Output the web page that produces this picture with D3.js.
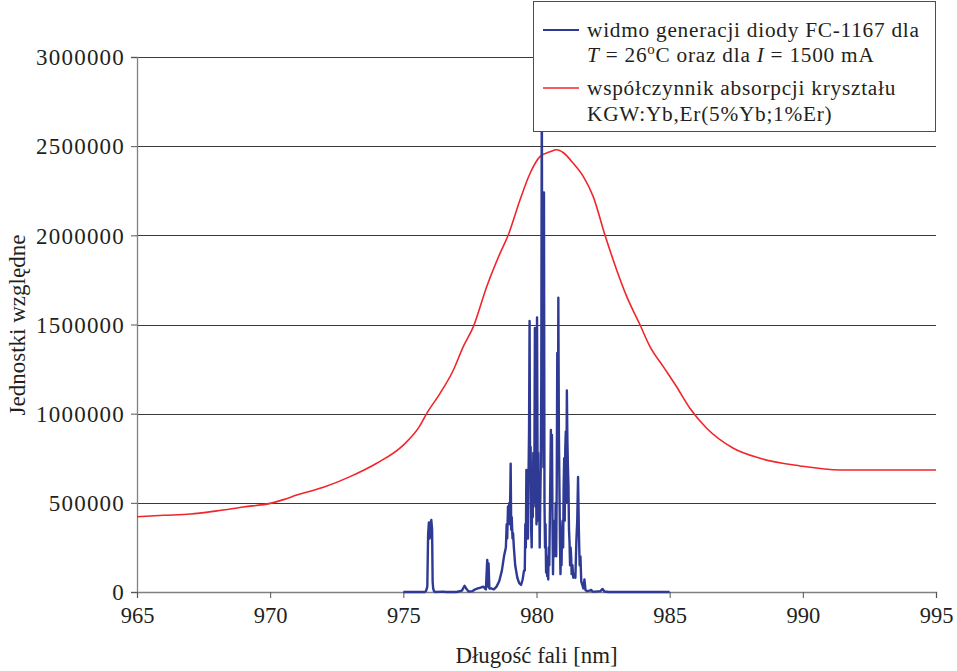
<!DOCTYPE html>
<html>
<head>
    <meta charset="UTF-8">
    <title>Widmo diody i absorpcja KGW:Yb,Er</title>
    <script src="https://d3js.org/d3.v7.min.js"></script>
    <style>
        body { margin: 0; background: #fff; }
        text { font-family: "Liberation Serif", Tinos, "Times New Roman", serif; fill: #231f20; }
    </style>
</head>
<body>
    <div id="chart"></div>
    <script>
        // wavelength ticks and value ticks
        var xTicks = [965, 970, 975, 980, 985, 990, 995];
        var yTicks = [0, 500000, 1000000, 1500000, 2000000, 2500000, 3000000];

        // absorption coefficient of the crystal (red), [nm, value]
        var absorption = [
            [965, 422000], [966, 430000], [967, 437000], [968, 455000], [969, 477000],
            [970, 497000], [970.5, 518000], [971, 544000], [972, 587000], [973, 647000],
            [974, 722000], [975, 824000], [975.6, 927000], [975.88, 1002000], [976.38, 1114000],
            [976.88, 1245000], [977.25, 1376000], [977.63, 1488000], [978.13, 1712000],
            [978.63, 1899000], [978.94, 2002000], [979.38, 2198000], [979.76, 2348000],
            [980.13, 2441000], [980.51, 2469000], [980.76, 2480000], [981.01, 2463000],
            [981.38, 2404000], [981.76, 2329000], [982.13, 2217000], [982.57, 2002000],
            [983.01, 1806000], [983.39, 1656000], [983.89, 1497000], [984.26, 1376000],
            [984.76, 1264000], [985.26, 1151000], [985.76, 1030000], [986.39, 918000],
            [987.39, 806000], [988.39, 750000], [989.89, 707000], [991.4, 684000], [995, 684000]
        ];

        // generation spectrum of the FC-1167 diode (blue), [nm, value]
        var spectrum = [
            [975.0, 0], [975.8, 0], [975.85, 5000], [975.9, 30000], [975.93, 320000],
            [975.96, 390000], [975.99, 300000], [976.02, 380000], [976.05, 404000],
            [976.08, 350000], [976.1, 60000], [976.12, 20000], [976.15, 5000], [976.2, 0],
            [976.5, 2000], [976.6, 0], [977.0, 0], [977.2, 8000], [977.3, 35000],
            [977.38, 15000], [977.45, 3000], [977.6, 5000], [977.7, 15000], [977.8, 20000],
            [977.9, 25000], [978.0, 30000], [978.1, 15000], [978.15, 180000], [978.17, 30000],
            [978.2, 160000], [978.23, 20000], [978.3, 20000], [978.4, 15000], [978.5, 30000],
            [978.6, 60000], [978.7, 120000], [978.78, 200000], [978.85, 250000], [978.88, 380000],
            [978.9, 300000], [978.93, 480000], [978.95, 420000], [978.98, 500000], [979.0, 380000],
            [979.03, 720000], [979.05, 350000], [979.07, 420000], [979.1, 300000], [979.12, 330000],
            [979.15, 250000], [979.2, 150000], [979.28, 80000], [979.35, 50000], [979.42, 40000],
            [979.48, 70000], [979.53, 120000],
            [979.56, 120000], [979.58, 380000], [979.60, 250000], [979.62, 684000], [979.64, 420000],
            [979.66, 600000], [979.68, 300000], [979.70, 650000], [979.72, 900000], [979.74, 1520000],
            [979.76, 620000], [979.78, 813000], [979.80, 350000], [979.82, 250000], [979.84, 620000],
            [979.86, 420000], [979.88, 780000], [979.90, 500000], [979.92, 700000], [979.94, 1480000],
            [979.96, 480000], [979.98, 628000], [980.00, 380000], [980.02, 1540000], [980.04, 700000],
            [980.06, 780000], [980.08, 400000], [980.10, 620000], [980.12, 250000], [980.14, 500000],
            [980.16, 700000], [980.18, 1200000], [980.20, 2950000], [980.22, 900000], [980.24, 1100000],
            [980.26, 700000], [980.28, 2240000], [980.30, 500000], [980.32, 250000], [980.34, 380000],
            [980.36, 110000], [980.38, 200000], [980.40, 90000], [980.42, 150000], [980.44, 70000],
            [980.46, 250000], [980.48, 150000], [980.50, 400000], [980.52, 650000], [980.54, 908000],
            [980.56, 600000], [980.58, 880000], [980.60, 400000], [980.62, 100000], [980.64, 350000],
            [980.66, 200000], [980.68, 400000], [980.70, 250000], [980.72, 500000], [980.74, 200000],
            [980.76, 600000], [980.78, 1340000], [980.80, 700000], [980.82, 1650000], [980.84, 900000],
            [980.86, 600000], [980.88, 300000], [980.90, 100000], [980.92, 250000], [980.94, 150000],
            [980.96, 350000], [980.98, 400000], [981.00, 250000], [981.02, 600000], [981.04, 750000],
            [981.06, 400000], [981.08, 800000], [981.10, 900000], [981.12, 500000], [981.14, 1130000],
            [981.16, 850000], [981.18, 700000], [981.20, 600000], [981.22, 350000], [981.24, 280000],
            [981.26, 150000], [981.28, 250000], [981.30, 200000], [981.32, 100000], [981.35, 150000],
            [981.38, 80000], [981.42, 100000], [981.46, 80000], [981.50, 300000], [981.53, 400000],
            [981.56, 645000], [981.59, 350000], [981.62, 150000], [981.65, 200000], [981.68, 60000],
            [981.72, 40000], [981.76, 20000], [981.80, 70000], [981.84, 10000], [981.9, 5000],
            [982.0, 8000], [982.05, 12000], [982.1, 3000], [982.2, 2000], [982.4, 5000],
            [982.48, 17000], [982.55, 3000], [982.7, 0], [985.0, 0]
        ];

        var W = 957, H = 671;
        var margin = {top: 57, right: 21, bottom: 79, left: 137},
            width = W - margin.left - margin.right,
            height = H - margin.top - margin.bottom;

        var x = d3.scaleLinear().domain([965, 995]).range([0, width]);
        var y = d3.scaleLinear().domain([0, 3000000]).range([height, 0]);

        var svg = d3.select("#chart").append("svg")
            .attr("width", W)
            .attr("height", H);

        var g = svg.append("g")
            .attr("transform", "translate(" + margin.left + "," + margin.top + ")");

        // horizontal gridlines
        g.selectAll(".grid")
            .data(yTicks.filter(function(d) { return d > 0; }))
            .enter().append("line")
            .attr("x1", 0).attr("x2", width)
            .attr("y1", function(d) { return Math.round(y(d)) + 0.5; })
            .attr("y2", function(d) { return Math.round(y(d)) + 0.5; })
            .attr("stroke", "#3a3a3a")
            .attr("stroke-width", 1);

        // axes
        var yAxis = g.append("g")
            .call(d3.axisLeft(y).tickValues(yTicks).tickSize(6).tickPadding(6)
                .tickFormat(d3.format("d")));
        var xAxis = g.append("g")
            .attr("transform", "translate(0," + height + ")")
            .call(d3.axisBottom(x).tickValues(xTicks).tickSize(6).tickPadding(9)
                .tickFormat(d3.format("d")));

        [xAxis, yAxis].forEach(function(a) {
            a.attr("font-family", null);
            a.select(".domain").attr("stroke", "#808080").attr("stroke-width", 1.3);
            a.selectAll(".tick line").attr("stroke", "#555");
            a.selectAll(".tick text")
                .style("font-size", "22.5px")
                .attr("fill", "#231f20");
        });
        yAxis.selectAll(".tick text")
            .style("font-size", "23px")
            .style("letter-spacing", "1.2px")
            .attr("dy", "0.34em");

        // red absorption curve
        var line = d3.line()
            .x(function(d) { return x(d[0]); })
            .y(function(d) { return y(d[1]); });

        g.append("path")
            .datum(absorption)
            .attr("fill", "none")
            .attr("stroke", "#f0262c")
            .attr("stroke-width", 1.6)
            .attr("d", line.curve(d3.curveMonotoneX)(absorption));

        // blue spectrum
        g.append("path")
            .datum(spectrum)
            .attr("fill", "none")
            .attr("stroke", "#2e3a94")
            .attr("stroke-width", 2.4)
            .attr("stroke-linejoin", "round")
            .attr("d", line.curve(d3.curveLinear)(spectrum));

        // axis titles
        svg.append("text")
            .attr("x", margin.left + width / 2 - 0)
            .attr("y", 663)
            .attr("text-anchor", "middle")
            .style("font-size", "22.8px")
            .text("Długość fali [nm]");

        svg.append("text")
            .attr("transform", "translate(25,325) rotate(-90)")
            .attr("text-anchor", "middle")
            .style("font-size", "23px")
            .text("Jednostki względne");

        // legend
        var lg = svg.append("g");
        lg.append("rect")
            .attr("x", 533.5).attr("y", 1.5)
            .attr("width", 402).attr("height", 130)
            .attr("fill", "#fff")
            .attr("stroke", "#4d4d4d")
            .attr("stroke-width", 1);

        lg.append("line")
            .attr("x1", 543).attr("x2", 579).attr("y1", 30).attr("y2", 30)
            .attr("stroke", "#2e3a94").attr("stroke-width", 2);
        lg.append("line")
            .attr("x1", 543).attr("x2", 579).attr("y1", 88).attr("y2", 88)
            .attr("stroke", "#f0262c").attr("stroke-width", 1.6);

        var fs = "21.3px", ls = "0.75px";
        lg.append("text").attr("x", 587).attr("y", 37)
            .style("font-size", fs).style("letter-spacing", ls)
            .text("widmo generacji diody FC-1167 dla");

        var t2 = lg.append("text").attr("x", 587).attr("y", 62)
            .style("font-size", fs).style("letter-spacing", ls);
        t2.append("tspan").style("font-style", "italic").text("T");
        t2.append("tspan").text(" = 26");
        t2.append("tspan").attr("dy", -8).style("font-size", "15px").text("o");
        t2.append("tspan").attr("dy", 8).text("C oraz dla ");
        t2.append("tspan").style("font-style", "italic").text("I");
        t2.append("tspan").text(" = 1500 mA");

        lg.append("text").attr("x", 587).attr("y", 95)
            .style("font-size", fs).style("letter-spacing", ls)
            .text("współczynnik absorpcji kryształu");
        lg.append("text").attr("x", 587).attr("y", 121)
            .style("font-size", fs).style("letter-spacing", ls)
            .text("KGW:Yb,Er(5%Yb;1%Er)");
    </script>
</body>
</html>
